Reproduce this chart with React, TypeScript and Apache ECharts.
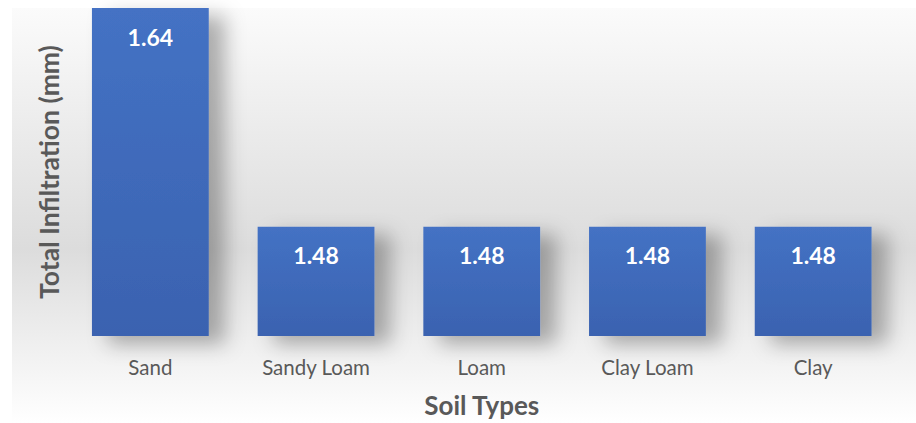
import React, { useEffect, useRef } from "react";
import * as echarts from "echarts";

const categories = ["Sand", "Sandy Loam", "Loam", "Clay Loam", "Clay"];
const infiltration = [1.64, 1.48, 1.48, 1.48, 1.48];
const xTitle = "Soil Types";
const yTitle = "Total Infiltration (mm)";

export default function App() {
  const ref = useRef<HTMLDivElement>(null);
  useEffect(() => {
    if (!ref.current) return;
    const chart = echarts.init(ref.current, null, { renderer: "svg" });
    const font = "Lato, 'Noto Sans', sans-serif";
    chart.setOption({
      animation: false,
      backgroundColor: "#ffffff",
      graphic: [
        {
          type: "rect",
          z: -10,
          silent: true,
          shape: { x: 12, y: 8, width: 904, height: 415 },
          style: {
            fill: new echarts.graphic.LinearGradient(0, 0, 0, 1, [
              { offset: 0, color: "#fbfbfb" },
              { offset: 0.58, color: "#dcdcdc" },
              { offset: 1, color: "#ffffff" },
            ]),
          },
        },
      ],
      grid: { left: 67.5, right: 20, top: 8, bottom: 87 },
      xAxis: {
        type: "category",
        data: categories,
        axisLine: { show: false },
        axisTick: { show: false },
        axisLabel: { color: "#595959", fontSize: 20.5, fontFamily: font, margin: 20 },
        name: xTitle,
        nameLocation: "middle",
        nameGap: 56,
        nameTextStyle: { color: "#595959", fontSize: 26, fontWeight: "bold", fontFamily: font },
      },
      yAxis: {
        type: "value",
        min: 1.4,
        max: 1.64,
        axisLine: { show: false },
        axisTick: { show: false },
        axisLabel: { show: false },
        splitLine: { show: false },
        name: yTitle,
        nameLocation: "middle",
        nameGap: 5,
        nameTextStyle: { color: "#595959", fontSize: 26.5, fontWeight: "bold", fontFamily: font },
      },
      series: [
        {
          type: "bar",
          data: infiltration,
          barCategoryGap: "29.5%",
          itemStyle: {
            color: new echarts.graphic.LinearGradient(0, 0, 0, 1, [
              { offset: 0, color: "#4472c4" },
              { offset: 1, color: "#3a62b0" },
            ]),
            shadowColor: "rgba(0,0,0,0.3)",
            shadowBlur: 20,
            shadowOffsetX: 16,
            shadowOffsetY: 8,
          },
          label: {
            show: true,
            position: "insideTop",
            distance: 17,
            color: "#ffffff",
            fontWeight: "bold",
            fontSize: 23,
            fontFamily: font,
            formatter: (p: any) => p.value.toFixed(2),
          },
        },
      ],
    });
    return () => chart.dispose();
  }, []);
  return (
    <div
      ref={ref}
      style={{ position: "absolute", left: 0, top: 0, width: 916, height: 423 }}
    />
  );
}
